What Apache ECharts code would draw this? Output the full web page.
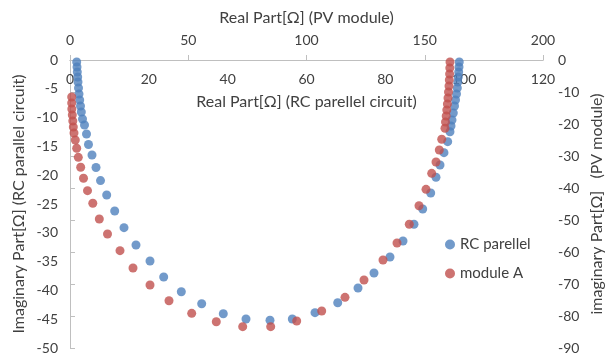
<!DOCTYPE html>
<html>
<head>
<meta charset="utf-8">
<script src="https://cdn.jsdelivr.net/npm/echarts@6/dist/echarts.min.js"></script>
<style>html,body{margin:0;padding:0;background:#fff;}#c{width:606px;height:354px;}</style>
</head>
<body>
<div id="c"></div>
<script>
// RC parallel circuit (primary axes: x 0-120, y 0..-50)
const rcReal = [1.70,1.78,1.85,1.95,2.03,2.16,2.28,2.46,2.66,2.87,3.17,3.68,4.19,4.69,5.58,6.60,7.74,9.31,11.34,13.70,16.74,20.30,23.77,28.24,33.41,38.89,44.65,50.74,56.40,62.16,67.92,73.07,77.12,81.18,84.48,87.27,89.48,91.51,92.85,93.87,94.88,95.82,96.40,96.66,96.91,97.24,97.55,97.80,98.05,98.26,98.38,98.51,98.61,98.69,98.76];
const rcImag = [-0.35,-1.22,-2.08,-2.95,-3.82,-4.86,-5.90,-6.94,-7.99,-9.03,-10.24,-11.28,-12.85,-14.67,-16.49,-18.66,-20.94,-23.44,-26.22,-29.11,-32.12,-34.90,-37.67,-40.23,-42.31,-44.05,-44.97,-45.19,-44.97,-43.87,-42.14,-39.58,-36.98,-34.20,-31.42,-28.52,-25.87,-23.09,-20.36,-18.23,-16.09,-14.18,-12.45,-11.46,-10.42,-9.20,-7.99,-6.94,-5.90,-4.86,-3.82,-2.95,-2.08,-1.22,-0.35];
// PV module A (secondary axes: x 0-200, y 0..-90)
const pvReal = [0.72,0.72,0.76,0.97,1.18,1.40,1.69,2.24,2.83,3.51,4.52,5.71,7.40,9.64,12.39,15.86,21.14,26.64,33.83,41.86,51.46,61.86,73.02,84.86,95.86,106.43,116.28,124.31,132.35,138.27,143.47,147.57,150.53,152.94,154.76,156.15,157.17,158.56,158.77,159.07,159.32,159.58,159.83,160.04,160.25,160.38,160.51,160.59,160.68];
const pvImag = [-11.56,-13.44,-15.31,-17.19,-19.06,-20.94,-22.81,-25.00,-27.59,-30.41,-33.53,-36.97,-40.84,-44.78,-49.69,-54.38,-59.59,-65.00,-70.31,-75.22,-79.16,-81.78,-83.34,-83.34,-81.56,-78.44,-74.16,-68.75,-62.50,-57.19,-51.34,-45.53,-40.41,-35.41,-31.88,-28.13,-24.78,-21.34,-19.38,-17.50,-15.63,-13.75,-11.88,-10.00,-8.13,-6.25,-4.38,-2.50,-0.63];
const seriesNames = ['RC parellel', 'module A'];
const axisTitles = {
  rcX: 'Real Part[Ω] (RC parellel circuit)',
  pvX: 'Real Part[Ω] (PV module)',
  rcY: 'Imaginary Part[Ω] (RC parallel circuit)',
  pvY: 'imaginary Part[Ω]   (PV module)'
};

const FONT = 'Lato, "Noto Sans", sans-serif';
const TXT = '#404040';
const LINE = '#BFBFBF';
const zip = (a, b) => a.map((v, i) => [v, b[i]]);

const chart = echarts.init(document.getElementById('c'), null, {renderer: 'canvas'});
chart.setOption({
  animation: false,
  textStyle: {fontFamily: FONT},
  grid: {left: 70, right: 63, top: 60, bottom: 6, containLabel: false, outerBoundsMode: 'none'},
  legend: {
    orient: 'vertical', left: 440, top: 232,
    icon: 'circle', itemWidth: 10, itemHeight: 10, itemGap: 14,
    textStyle: {fontFamily: FONT, fontSize: 15, color: TXT},
    data: seriesNames
  },
  xAxis: [
    {
      type: 'value', position: 'top', min: 0, max: 120, interval: 20,
      axisLine: {show: true, lineStyle: {color: LINE}},
      axisTick: {show: false},
      splitLine: {show: false},
      axisLabel: {inside: true, margin: 12, fontSize: 14, color: TXT, fontFamily: FONT},
      name: axisTitles.rcX, nameLocation: 'middle', nameGap: -50, nameMoveOverlap: false,
      nameTextStyle: {fontSize: 16, color: TXT, fontFamily: FONT}
    },
    {
      type: 'value', position: 'top', min: 0, max: 200, interval: 50,
      axisLine: {show: true, lineStyle: {color: LINE}},
      axisTick: {show: true, inside: false, length: 5, lineStyle: {color: LINE}},
      splitLine: {show: false},
      axisLabel: {margin: 13, fontSize: 14, color: TXT, fontFamily: FONT},
      name: axisTitles.pvX, nameLocation: 'middle', nameGap: 34, nameMoveOverlap: false,
      nameTextStyle: {fontSize: 16, color: TXT, fontFamily: FONT}
    }
  ],
  yAxis: [
    {
      type: 'value', position: 'left', min: -50, max: 0, interval: 5,
      axisLine: {show: true, lineStyle: {color: LINE}},
      axisTick: {show: false},
      splitLine: {show: false},
      axisLabel: {margin: 12, fontSize: 14, color: TXT, fontFamily: FONT},
      name: axisTitles.rcY, nameLocation: 'middle', nameGap: 43, nameRotate: 90, nameMoveOverlap: false,
      nameTextStyle: {fontSize: 16, color: TXT, fontFamily: FONT}
    },
    {
      type: 'value', position: 'right', min: -90, max: 0, interval: 10,
      axisLine: {show: true, lineStyle: {color: LINE}},
      axisTick: {show: true, inside: false, length: 5, lineStyle: {color: LINE}},
      splitLine: {show: false},
      axisLabel: {margin: 15, fontSize: 14, color: TXT, fontFamily: FONT},
      name: axisTitles.pvY, nameLocation: 'middle', nameGap: 46, nameRotate: 90, nameMoveOverlap: false,
      nameTextStyle: {fontSize: 16, color: TXT, fontFamily: FONT}
    }
  ],
  series: [
    {
      name: seriesNames[0], type: 'scatter', xAxisIndex: 0, yAxisIndex: 0,
      symbol: 'circle', symbolSize: 9,
      itemStyle: {color: '#4F81BD'},
      data: zip(rcReal, rcImag)
    },
    {
      name: seriesNames[1], type: 'scatter', xAxisIndex: 1, yAxisIndex: 1,
      symbol: 'circle', symbolSize: 9,
      itemStyle: {color: '#C0504D'},
      data: zip(pvReal, pvImag)
    }
  ]
});
</script>
</body>
</html>
